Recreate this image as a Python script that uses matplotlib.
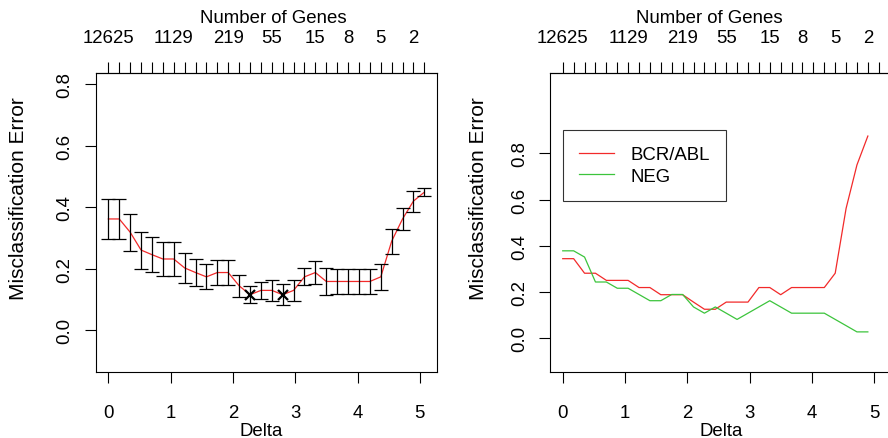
import numpy as np
import matplotlib.pyplot as plt

plt.rcParams['font.family'] = ['Liberation Sans', 'DejaVu Sans']
plt.rcParams['font.size'] = 13.4

# thresholds (Delta) and cross-validated errors
threshold = [0.000, 0.175, 0.350, 0.525, 0.700, 0.875, 1.049, 1.224, 1.399, 1.574,
             1.749, 1.924, 2.099, 2.274, 2.449, 2.624, 2.798, 2.973, 3.148, 3.323,
             3.498, 3.673, 3.848, 4.023, 4.198, 4.373, 4.548, 4.722, 4.897, 5.072]
gene_labels = ['12625', '', '', '', '', '', '1129', '', '', '', '', '219', '', '', '',
               '55', '', '', '', '15', '', '', '8', '', '', '5', '', '', '2', '']
overall_err = [0.362, 0.362, 0.319, 0.261, 0.246, 0.232, 0.232, 0.203, 0.188, 0.174,
               0.188, 0.188, 0.145, 0.116, 0.130, 0.130, 0.116, 0.130, 0.174, 0.188,
               0.159, 0.159, 0.159, 0.159, 0.159, 0.174, 0.290, 0.362, 0.420, 0.449]
overall_se = [0.065, 0.066, 0.060, 0.060, 0.056, 0.054, 0.054, 0.049, 0.043, 0.041,
              0.042, 0.042, 0.036, 0.028, 0.027, 0.033, 0.035, 0.033, 0.028, 0.037,
              0.044, 0.040, 0.040, 0.040, 0.040, 0.043, 0.041, 0.037, 0.034, 0.012]

class_names = ['BCR/ABL', 'NEG']
class_colors = ['#f22a2a', '#3cc43c']
err_bcr = [0.344, 0.344, 0.281, 0.281, 0.250, 0.250, 0.250, 0.219, 0.219, 0.188,
           0.188, 0.188, 0.156, 0.125, 0.125, 0.156, 0.156, 0.156, 0.219, 0.219,
           0.188, 0.219, 0.219, 0.219, 0.219, 0.281, 0.562, 0.750, 0.875]
err_neg = [0.378, 0.378, 0.351, 0.243, 0.243, 0.216, 0.216, 0.189, 0.162, 0.162,
           0.189, 0.189, 0.135, 0.108, 0.135, 0.108, 0.081, 0.108, 0.135, 0.162,
           0.135, 0.108, 0.108, 0.108, 0.108, 0.081, 0.054, 0.027, 0.027]

fig = plt.figure(figsize=(8.88, 4.39), dpi=100)
ax1 = fig.add_axes([95.7 / 888, 1 - 373.3 / 439, 341.3 / 888, 299.3 / 439])
ax2 = fig.add_axes([550.1 / 888, 1 - 373.3 / 439, 341.3 / 888, 299.3 / 439])

xlim = (-0.203, 5.275)


def style_axes(ax, yticks, ylab_x, xlab_x, top_x):
    ax.set_xlim(xlim)
    ax.set_xticks([0, 1, 2, 3, 4, 5])
    ax.set_yticks(yticks)
    ax.set_yticklabels(['%.1f' % v for v in yticks], rotation=90, va='center')
    ax.tick_params(direction='out', length=8, width=0.8, pad=8)
    ax.tick_params(axis='x', pad=14.8)
    for s in ax.spines.values():
        s.set_linewidth(0.8)
    ax.set_xlabel('Delta')
    ax.xaxis.set_label_coords(xlab_x, -0.195)
    ax.xaxis.label.set_va('center')
    ax.set_ylabel('Misclassification Error', fontsize=15)
    ax.yaxis.set_label_coords(ylab_x, 0.582)
    ax.yaxis.label.set_va('center')
    top = ax.secondary_xaxis('top')
    top.set_xticks(threshold)
    top.set_xticklabels(gene_labels)
    top.tick_params(direction='out', length=8, width=0.8, pad=11.4)
    top.set_xlabel('Number of Genes')
    top.xaxis.set_label_coords(top_x, 1.187, transform=ax.transAxes)
    top.xaxis.label.set_va('center')


# left: overall error with standard error bars
ax1.plot(threshold, overall_err, color='#f22a2a', lw=0.9, zorder=2)
ax1.errorbar(threshold, overall_err, yerr=overall_se, fmt='none', ecolor='black',
             elinewidth=0.9, capsize=4.8, capthick=0.9, zorder=3)
err_arr = np.array(overall_err)
best = np.isclose(err_arr, err_arr.min())
ax1.plot(np.array(threshold)[best], err_arr[best], 'x', color='black',
         ms=7.5, mew=1.6, zorder=4)
ax1.set_ylim(-0.136, 0.836)
style_axes(ax1, [0.0, 0.2, 0.4, 0.6, 0.8], (18.3 - 95.7) / 341.3,
           (261 - 95.7) / 341.3, (273.5 - 95.7) / 341.3)

# right: error by class
ax2.plot(threshold[:len(err_bcr)], err_bcr, color=class_colors[0], lw=0.9, label=class_names[0])
ax2.plot(threshold[:len(err_neg)], err_neg, color=class_colors[1], lw=0.9, label=class_names[1])
ax2.set_ylim(-0.148, 1.148)
style_axes(ax2, [0.0, 0.2, 0.4, 0.6, 0.8], (478.3 - 550.1) / 341.3,
           (721.5 - 550.1) / 341.3, (709 - 550.1) / 341.3)
leg = ax2.legend(loc='upper left', bbox_to_anchor=(0, 0.9),
                 bbox_transform=ax2.transData, borderaxespad=0,
                 frameon=True, fancybox=False, edgecolor='black',
                 handlelength=1.9, handletextpad=0.9, borderpad=0.85,
                 labelspacing=0.25)
leg.get_frame().set_linewidth(0.8)

plt.savefig('out.png', dpi=100)
